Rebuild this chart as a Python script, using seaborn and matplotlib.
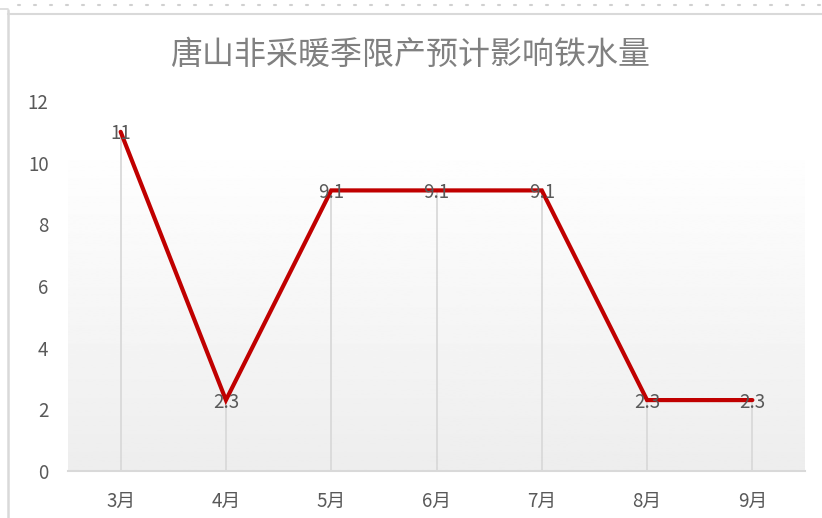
import numpy as np
import pandas as pd
import matplotlib
matplotlib.use("Agg")
import matplotlib.pyplot as plt
from matplotlib.lines import Line2D
import seaborn as sns

months = ["3月", "4月", "5月", "6月", "7月", "8月", "9月"]
values = [11, 2.3, 9.1, 9.1, 9.1, 2.3, 2.3]
value_labels = ["11", "2.3", "9.1", "9.1", "9.1", "2.3", "2.3"]
yticks = [0, 2, 4, 6, 8, 10, 12]
title = "唐山非采暖季限产预计影响铁水量"

sns.set_theme(style="white")
plt.rcParams["font.family"] = ["Noto Sans CJK SC", "DejaVu Sans"]

df = pd.DataFrame({"pos": np.arange(len(months)), "month": months, "value": values})

fig = plt.figure(figsize=(8.22, 5.18), dpi=100)
W, H = 822, 518
ax = fig.add_axes([68 / W, 47 / H, 737 / W, 370 / H])

# plot-area gradient: white at top fading to light gray at the bottom
grad = np.linspace(1.0, 0.93, 256).reshape(-1, 1)
ax.imshow(grad, cmap="gray", vmin=0, vmax=1, aspect="auto",
          extent=(-0.5, len(months) - 0.5, 0, 10.7), zorder=0)

# drop lines from each point to the axis
ax.vlines(df["pos"], 0, df["value"], color="#d9d9d9", lw=1.3, zorder=1)

sns.lineplot(data=df, x="pos", y="value", ax=ax, color="#c00000",
             lw=3.0, sort=False, zorder=3, solid_joinstyle="miter")

for x, v, lab in zip(df["pos"], df["value"], value_labels):
    ax.annotate(lab, (x, v), xytext=(0, -1.5), textcoords="offset points",
                ha="center", va="center", fontsize=13.5,
                color="#595959", zorder=4)

ax.set_xlim(-0.5, len(months) - 0.5)
ax.set_ylim(0, 12)
ax.set_xticks(df["pos"])
ax.set_xticklabels(months)
ax.set_yticks(yticks)
ax.set_yticklabels([str(t) for t in yticks])
ax.set_xlabel("")
ax.set_ylabel("")
ax.tick_params(axis="x", length=0, pad=14, labelsize=13.5, labelcolor="#595959")
ax.tick_params(axis="y", length=0, pad=14, labelsize=13.5, labelcolor="#595959")

for side in ["top", "right", "left"]:
    ax.spines[side].set_visible(False)
ax.spines["bottom"].set_color("#d9d9d9")
ax.spines["bottom"].set_linewidth(1.5)
ax.spines["bottom"].set_zorder(2)

fig.text(410 / W, 1 - 55 / H, title, ha="center", va="center",
         fontsize=23, color="#808080")

# frame lines around the chart area
def px_line(x0, y0, x1, y1, **kw):
    fig.add_artist(Line2D([x0 / W, x1 / W], [1 - y0 / H, 1 - y1 / H],
                          transform=fig.transFigure, **kw))

px_line(8, 13.5, W, 13.5, color="#d9d9d9", lw=1.5)
px_line(7.5, 10, 7.5, H, color="#d9d9d9", lw=1.8)
px_line(0, 9, 8, 9, color="#d9d9d9", lw=1.2)
for x in np.arange(18, W, 16):
    px_line(x, 4.5, x + 1.5, 4.5, color="#d0d0d0", lw=1.5)

fig.savefig("out.png", dpi=100)
